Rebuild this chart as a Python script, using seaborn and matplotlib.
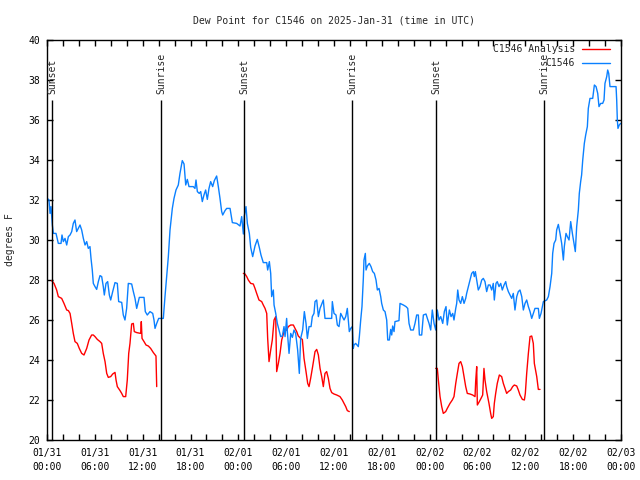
"""Dew point chart: station C1546 observations vs analysis, with sunrise/sunset marks"""
import matplotlib
matplotlib.use('Agg')
import matplotlib.pyplot as plt
import matplotlib.dates as mdates
from matplotlib.lines import Line2D
import seaborn as sns
import pandas as pd

# time axis starts at 2025-01-31 00:00 UTC, hours counted from there
start = pd.Timestamp('2025-01-31 00:00')

# observed dew point (C1546), degrees F
obs_hours = [0.04, 0.25, 0.38, 0.5, 0.67, 0.8, 1.13, 1.42, 1.76, 1.88, 2.05, 2.26, 2.47, 2.68,
             2.89, 3.1, 3.3, 3.51, 3.72, 3.93, 4.14, 4.35, 4.56, 4.77, 4.98, 5.18, 5.39, 5.52,
             5.68, 5.81, 6.02, 6.23, 6.44, 6.65, 6.86, 7.06, 7.19, 7.4, 7.61, 7.82, 7.99, 8.24,
             8.53, 8.82, 8.99, 9.37, 9.57, 9.78, 9.99, 10.2, 10.62, 10.83, 11.04, 11.25, 11.58,
             12.17, 12.33, 12.58, 12.92, 13.26, 13.42, 13.55, 13.76, 14.01, 14.59, 14.8, 15.22,
             15.43, 15.72, 15.93, 16.18, 16.47, 16.68, 16.97, 17.19, 17.4, 17.6, 17.81, 18.35,
             18.56, 18.69, 18.86, 19.1, 19.28, 19.48, 19.69, 19.9, 20.11, 20.32, 20.53, 20.78,
             20.99, 21.28, 21.49, 21.7, 21.91, 22.04, 22.33, 22.54, 22.96, 23.25, 23.79, 24.21,
             24.42, 24.63, 24.75, 24.96, 25.13, 25.38, 25.55, 25.8, 26.09, 26.38, 26.63, 26.84,
             27.13, 27.56, 27.68, 27.89, 28.06, 28.18, 28.39, 28.48, 28.69, 28.89, 29.1, 29.31,
             29.52, 29.73, 29.86, 30.06, 30.15, 30.36, 30.57, 30.78, 30.98, 31.19, 31.44, 31.65,
             31.82, 32.07, 32.28, 32.49, 32.66, 32.87, 33.12, 33.28, 33.49, 33.62, 33.83, 34.04,
             34.25, 34.66, 34.87, 35.71, 35.79, 36.0, 36.25, 36.42, 36.63, 36.84, 37.04, 37.26,
             37.47, 37.67, 37.8, 37.92, 38.09, 38.3, 38.42, 38.51, 38.72, 39.05, 39.18, 39.35,
             39.51, 39.68, 39.76, 39.93, 40.02, 40.18, 40.43, 40.64, 40.85, 41.06, 41.27, 41.44,
             41.65, 41.86, 41.98, 42.19, 42.4, 42.61, 42.74, 42.94, 43.11, 43.24, 43.36, 43.53,
             43.65, 44.15, 44.28, 44.7, 45.03, 45.25, 45.41, 45.62, 45.95, 46.16, 46.37, 46.58,
             46.71, 47.0, 47.21, 47.54, 47.71, 47.92, 48.13, 48.33, 48.55, 48.76, 48.96, 49.17,
             49.39, 49.64, 49.84, 50.05, 50.21, 50.47, 50.68, 50.89, 51.05, 51.27, 51.39, 51.52,
             51.68, 51.89, 52.1, 52.31, 52.52, 52.64, 52.85, 53.06, 53.27, 53.48, 53.6, 53.73,
             53.9, 54.1, 54.31, 54.53, 54.73, 54.94, 55.15, 55.36, 55.57, 55.78, 55.98, 56.11,
             56.32, 56.48, 56.7, 56.91, 57.11, 57.33, 57.54, 57.66, 57.87, 58.08, 58.29, 58.49,
             58.7, 58.92, 59.12, 59.33, 59.55, 59.75, 59.96, 60.17, 60.38, 60.59, 60.8, 61.0,
             61.21, 61.63, 61.76, 61.97, 62.26, 62.68, 62.89, 63.1, 63.31, 63.43, 63.6, 63.81,
             63.93, 64.14, 64.35, 64.56, 64.77, 64.89, 65.1, 65.27, 65.48, 65.69, 65.9, 66.11,
             66.27, 66.44, 66.65, 66.77, 66.94, 67.06, 67.2, 67.4, 67.57, 67.78, 67.9, 68.11,
             68.45, 68.66, 68.87, 69.08, 69.24, 69.45, 69.7, 69.87, 69.99, 70.21, 70.33, 70.46,
             70.62, 71.38, 71.46, 71.54, 71.62, 71.78, 71.95]
obs_dewpt = [32.08, 32.0, 31.33, 31.67, 30.75, 30.33, 30.33, 29.83, 29.83, 30.25, 29.92, 30.08,
             29.75, 30.17, 30.25, 30.42, 30.83, 31.0, 30.42, 30.58, 30.75, 30.5, 30.08, 29.75,
             29.92, 29.58, 29.67, 29.08, 28.5, 27.83, 27.67, 27.53, 27.92, 28.22, 28.17, 27.67,
             27.25, 27.83, 27.92, 27.25, 27.0, 27.42, 27.87, 27.83, 26.92, 26.88, 26.25, 26.0,
             26.58, 27.83, 27.8, 27.42, 27.08, 26.58, 27.13, 27.13, 26.42, 26.25, 26.42, 26.33,
             26.0, 25.58, 25.83, 26.08, 26.08, 27.17, 29.17, 30.5, 31.58, 32.08, 32.5, 32.75,
             33.33, 33.97, 33.8, 32.75, 33.03, 32.67, 32.67, 32.58, 33.0, 32.42, 32.33, 32.42,
             31.92, 32.25, 32.5, 32.03, 32.58, 32.92, 32.67, 32.97, 33.2, 32.67, 32.08, 31.42,
             31.25, 31.47, 31.58, 31.58, 30.87, 30.83, 30.7, 31.17, 30.3, 31.2, 31.67, 30.83,
             30.33, 29.63, 29.17, 29.7, 30.03, 29.63, 29.25, 28.87, 28.87, 28.5, 28.92, 28.33,
             27.17, 27.5, 26.75, 26.33, 25.83, 25.5, 25.17, 25.2, 25.67, 25.17, 26.08, 25.42,
             24.33, 25.33, 25.13, 25.5, 25.33, 24.5, 23.33, 25.08, 25.5, 26.42, 25.83, 25.08,
             25.67, 25.67, 26.17, 26.33, 26.92, 27.0, 26.17, 26.58, 27.0, 26.08, 26.08, 26.92,
             26.33, 26.25, 25.75, 25.67, 26.33, 26.17, 26.0, 26.17, 26.58, 26.0, 25.42, 25.58,
             25.67, 24.58, 24.75, 24.83, 24.67, 25.17, 26.0, 26.67, 28.08, 29.0, 29.33, 28.5,
             28.7, 28.83, 28.67, 28.42, 28.33, 28.0, 27.5, 27.58, 27.17, 26.83, 26.5, 26.42,
             26.0, 25.0, 25.0, 25.53, 25.25, 25.7, 25.42, 25.92, 25.97, 26.83, 26.75, 26.67,
             26.58, 25.83, 25.5, 25.5, 25.83, 26.25, 26.25, 25.25, 25.25, 26.25, 26.3, 26.08,
             25.83, 25.5, 26.5, 25.83, 25.5, 26.5, 26.0, 26.17, 25.83, 26.42, 26.67, 25.75,
             26.5, 26.17, 26.33, 26.0, 26.58, 26.83, 27.5, 27.0, 26.83, 27.17, 26.83, 27.08,
             27.33, 27.67, 28.0, 28.33, 28.42, 28.17, 28.42, 28.0, 27.5, 27.67, 28.0, 28.08,
             27.92, 27.42, 27.75, 27.75, 27.5, 27.83, 27.0, 27.83, 27.92, 27.67, 27.83, 27.5,
             27.75, 27.92, 27.67, 27.42, 27.25, 27.08, 27.33, 26.5, 27.17, 27.42, 27.5, 27.17,
             26.5, 26.83, 27.0, 26.67, 26.42, 26.08, 26.33, 26.58, 26.58, 26.08, 26.33, 26.92,
             27.0, 27.17, 27.67, 28.33, 29.33, 29.83, 30.0, 30.5, 30.78, 30.33, 29.83, 29.0,
             29.67, 30.33, 30.17, 30.0, 30.92, 30.33, 29.83, 29.42, 30.67, 31.5, 32.33, 32.92,
             33.25, 34.0, 34.83, 35.25, 35.67, 36.58, 37.08, 37.08, 37.75, 37.67, 37.33, 36.67,
             36.83, 36.83, 37.0, 37.83, 38.17, 38.5, 38.33, 37.67, 37.67, 37.0, 36.0, 35.58,
             35.75, 35.83]

# analysis dew point (C1546 Analysis), three separate pieces
ana1_hours = [0.59, 0.88, 1.21, 1.42, 1.84, 2.13, 2.47, 2.68, 2.89, 3.1, 3.3, 3.51, 3.8, 4.05,
              4.35, 4.64, 4.98, 5.27, 5.6, 5.81, 6.02, 6.31, 6.65, 6.86, 7.06, 7.28, 7.49, 7.69,
              7.99, 8.24, 8.53, 8.66, 8.82, 9.16, 9.37, 9.57, 9.87, 10.07, 10.25, 10.41, 10.62,
              10.83, 10.95, 11.25, 11.75, 11.83, 11.92, 12.17, 12.42, 12.71, 13.0, 13.34, 13.67,
              13.76]
ana1_dewpt = [27.97, 27.83, 27.5, 27.17, 27.08, 26.83, 26.5, 26.47, 26.33, 25.83, 25.33, 24.92,
              24.83, 24.58, 24.33, 24.25, 24.58, 25.0, 25.25, 25.25, 25.17, 25.03, 24.92, 24.83,
              24.33, 23.92, 23.33, 23.13, 23.17, 23.3, 23.38, 23.0, 22.67, 22.47, 22.33, 22.17,
              22.17, 23.0, 24.33, 24.83, 25.8, 25.83, 25.42, 25.37, 25.33, 25.92, 25.08, 24.92,
              24.75, 24.7, 24.58, 24.37, 24.2, 22.67]
ana2_hours = [24.63, 24.84, 25.05, 25.25, 25.55, 25.88, 26.09, 26.3, 26.59, 26.93, 27.13, 27.35,
              27.56, 27.68, 27.85, 28.06, 28.26, 28.48, 28.69, 28.81, 29.02, 29.23, 29.44, 29.73,
              30.06, 30.27, 30.57, 30.9, 31.11, 31.32, 31.52, 31.82, 32.03, 32.24, 32.49, 32.7,
              32.87, 33.07, 33.32, 33.62, 33.83, 34.04, 34.25, 34.46, 34.66, 34.87, 35.08, 35.29,
              35.5, 35.71, 36.0, 36.34, 36.75, 37.04, 37.26, 37.47, 37.67, 37.92]
ana2_dewpt = [28.33, 28.3, 28.17, 28.0, 27.83, 27.8, 27.58, 27.33, 27.0, 26.92, 26.75, 26.58,
              26.33, 25.08, 23.92, 24.5, 25.0, 26.0, 26.17, 23.42, 23.83, 24.33, 25.0, 25.42,
              25.5, 25.67, 25.75, 25.75, 25.58, 25.42, 25.2, 25.08, 25.03, 24.08, 23.42, 22.83,
              22.67, 23.08, 23.67, 24.42, 24.53, 24.25, 23.58, 23.17, 22.67, 23.33, 23.42, 23.08,
              22.58, 22.37, 22.3, 22.25, 22.17, 22.0, 21.83, 21.67, 21.47, 21.42]
ana3_hours = [48.76, 48.96, 49.09, 49.3, 49.51, 49.71, 50.01, 50.21, 50.55, 50.84, 51.05, 51.27,
              51.47, 51.68, 51.89, 52.1, 52.31, 52.52, 52.72, 53.06, 53.39, 53.69, 53.77, 53.9,
              53.98, 54.23, 54.44, 54.65, 54.81, 54.94, 55.15, 55.44, 55.65, 55.78, 55.98, 56.11,
              56.28, 56.48, 56.74, 57.03, 57.24, 57.45, 57.66, 57.87, 58.16, 58.41, 58.62, 58.92,
              59.12, 59.33, 59.63, 59.88, 60.0, 60.17, 60.38, 60.59, 60.8, 61.0, 61.13, 61.43,
              61.63, 61.84]
ana3_dewpt = [23.58, 23.58, 23.0, 22.17, 21.67, 21.33, 21.42, 21.58, 21.83, 22.0, 22.17, 22.83,
              23.33, 23.83, 23.92, 23.67, 23.17, 22.67, 22.33, 22.3, 22.25, 22.17, 22.92, 23.67,
              21.75, 21.92, 22.08, 22.25, 23.58, 23.0, 22.42, 21.83, 21.33, 21.08, 21.17, 21.83,
              22.33, 22.83, 23.25, 23.17, 22.83, 22.58, 22.33, 22.42, 22.5, 22.67, 22.75, 22.7,
              22.5, 22.25, 22.03, 22.0, 22.33, 23.33, 24.33, 25.17, 25.2, 24.83, 23.83, 23.17,
              22.53, 22.53]

# sunrise / sunset times (hours from start)
sun_hours = [0.63, 14.3, 24.7, 38.27, 48.8, 62.35]
sun_labels = ['Sunset', 'Sunrise', 'Sunset', 'Sunrise', 'Sunset', 'Sunrise']

red = '#ff0000'
blue = '#0a80ff'

obs = pd.DataFrame({'time': start + pd.to_timedelta(obs_hours, unit='h'), 'dewpt': obs_dewpt})
ana = pd.concat([
    pd.DataFrame({'time': start + pd.to_timedelta(h, unit='h'), 'dewpt': v, 'seg': i})
    for i, (h, v) in enumerate([(ana1_hours, ana1_dewpt), (ana2_hours, ana2_dewpt),
                                (ana3_hours, ana3_dewpt)])
], ignore_index=True)

sns.set_theme(style='ticks')
plt.rcParams['font.family'] = ['DejaVu Sans Mono']
plt.rcParams['font.size'] = 7

fig = plt.figure(figsize=(6.4, 4.8), dpi=100)
ax = fig.add_axes([47 / 640, 40 / 480, 574 / 640, 400 / 480])

sns.lineplot(data=ana, x='time', y='dewpt', units='seg', estimator=None, sort=False,
             color=red, linewidth=1.0, ax=ax)
sns.lineplot(data=obs, x='time', y='dewpt', estimator=None, sort=False,
             color=blue, linewidth=1.0, ax=ax)

# sunrise / sunset markers
for h, lab in zip(sun_hours, sun_labels):
    t = start + pd.Timedelta(hours=h)
    ax.vlines(t, 20, 37, color='black', linewidth=1.0)
    ax.text(t, 37.3, lab, rotation=90, ha='center', va='bottom', fontsize=7)

ax.set_xlim(start, start + pd.Timedelta(hours=72))
ax.set_ylim(20, 40)
ax.set_yticks(range(20, 41, 2))
ax.xaxis.set_major_locator(mdates.HourLocator(byhour=[0, 6, 12, 18]))
ax.xaxis.set_minor_locator(mdates.HourLocator(byhour=range(0, 24, 2)))
ax.xaxis.set_major_formatter(mdates.DateFormatter('%m/%d\n%H:%M'))
ax.tick_params(which='both', direction='in', top=True, right=True, length=4, width=1,
               colors='black', labelsize=7)
ax.tick_params(axis='x', pad=6)
ax.tick_params(axis='y', pad=5)
for lbl in ax.get_xticklabels():
    lbl.set_linespacing(1.5)
for sp in ax.spines.values():
    sp.set_linewidth(1.0)
    sp.set_color('black')

ax.set_xlabel('')
ax.set_ylabel('degrees F', fontsize=7)
ax.yaxis.set_label_coords(-0.056, 0.5)
ax.set_title('Dew Point for C1546 on 2025-Jan-31 (time in UTC)', fontsize=7, pad=12)

handles = [Line2D([], [], color=red, linewidth=1.0), Line2D([], [], color=blue, linewidth=1.0)]
ax.legend(handles, ['C1546 Analysis', 'C1546'], loc='upper right',
          bbox_to_anchor=(0.981, 0.99), frameon=False, markerfirst=False,
          borderpad=0, borderaxespad=0, handlelength=2.9, handletextpad=0.7,
          labelspacing=0.45, fontsize=7)

plt.savefig('out.png', dpi=100)
plt.close()
